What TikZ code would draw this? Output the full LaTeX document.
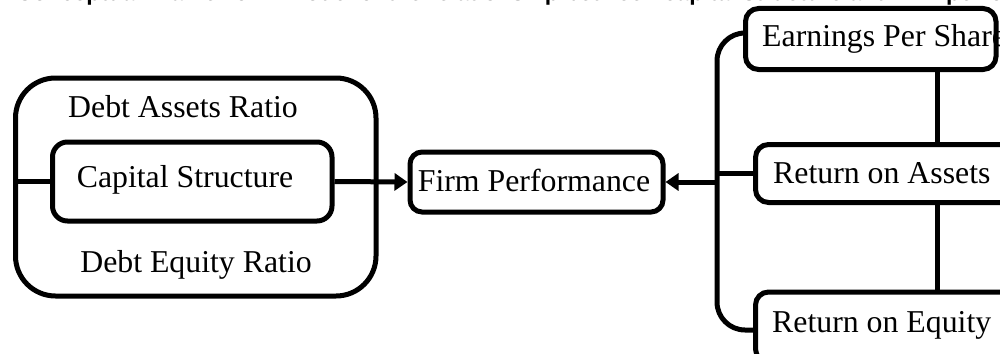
\documentclass[tikz,border=0pt]{standalone}
\usepackage{fontspec}
\setmainfont{Liberation Serif}
\newfontfamily\titlefont{Liberation Sans}
\usetikzlibrary{arrows.meta}
\begin{document}
\begin{tikzpicture}[x=1pt,y=-1pt,
  boxst/.style={draw, line width=5pt, rounded corners=13pt, inner sep=0pt},
  lbl/.style={anchor=base, inner sep=0pt, font=\fontsize{31.8}{38}\selectfont},
  lblw/.style={lbl, anchor=base west},
  conn/.style={line width=5pt},
  arr/.style={line width=5pt, -{Triangle[length=13pt,width=17pt]}}]
\useasboundingbox (0,0) rectangle (1000,353);

% title (mostly cut off at the top)
\node[anchor=base west, inner sep=0pt, font=\titlefont\bfseries\fontsize{23}{28}\selectfont] (title) at (16,0.5)
  {Conceptual Framework: Model of the relationship between capital structure and firm performance};

% texts
\node[lbl] (tda) at (183,117) {Debt Assets Ratio};
\node[lbl] (tcs) at (185,187) {Capital Structure};
\node[lbl] (tde) at (196,272) {Debt Equity Ratio};
\node[lbl] (tfp) at (534,191) {Firm Performance};
\node[lblw] (teps) at (762,47) {Earnings Per Share};
\node[lblw] (troa) at (773,183) {Return on Assets};
\node[lblw] (troe) at (772,332) {Return on Equity};

% boxes
\node[boxst, rounded corners=40pt, minimum width=360.5pt, minimum height=218pt] (outer) at (195.75,187) {};
\node[boxst, rounded corners=15pt, minimum width=279.5pt, minimum height=79pt] (cs) at (192.25,181.5) {};
\node[boxst, rounded corners=12pt, minimum width=253pt, minimum height=60pt] (fp) at (536.5,182) {};
\node[boxst, minimum width=250.5pt, minimum height=61pt] (eps) at (870.75,39) {};
\node[boxst, minimum width=260pt, minimum height=58pt] (roa) at (885.5,173.5) {};
\node[boxst, minimum width=260pt, minimum height=70pt] (roe) at (885.5,327) {};

% connectors
\coordinate (br) at (717,180);
\coordinate (vx) at (937.5,0);
\draw[conn] (outer.west |- cs.west) -- (cs.west);
\draw[arr] (cs.east) -- (fp.west);
\draw[conn, rounded corners=28pt] ([yshift=6pt]eps.west) -| (br) |- ([yshift=-3pt]roe.west);
\draw[conn] (br |- roa.west) -- (roa.west);
\draw[arr] (br |- fp.east) -- (fp.east);
\draw[conn] (eps.south -| vx) -- (roa.north -| vx);
\draw[conn] (roa.south -| vx) -- (roe.north -| vx);
\end{tikzpicture}
\end{document}
